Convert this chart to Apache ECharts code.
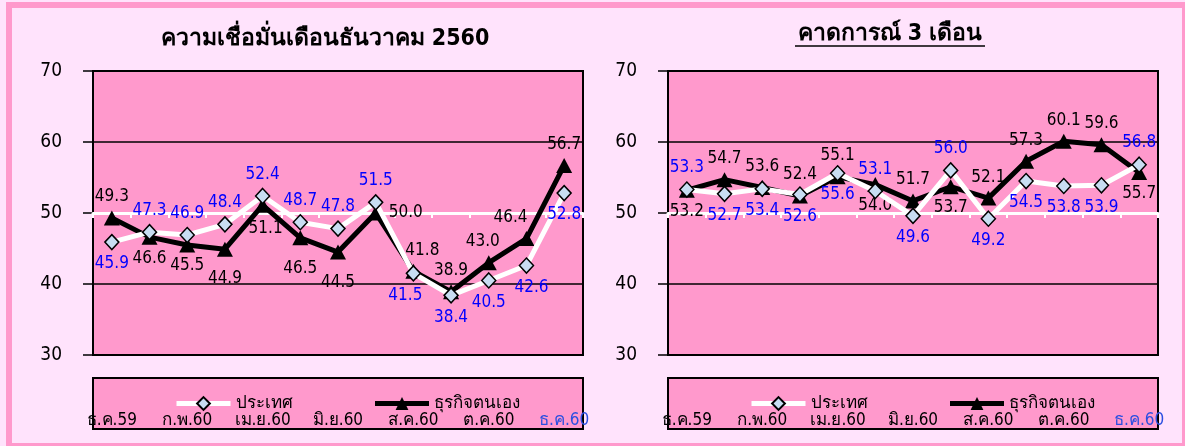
<!DOCTYPE html>
<html><head><meta charset="utf-8">
<script src="https://cdn.jsdelivr.net/npm/echarts@6/dist/echarts.min.js"></script>
<style>html,body{margin:0;padding:0;background:#FFE3FC}#c{width:1185px;height:446px}</style>
</head><body><div id="c"></div>
<script>
const categories = ['ธ.ค.59','ม.ค.60','ก.พ.60','มี.ค.60','เม.ย.60','พ.ค.60','มิ.ย.60','ก.ค.60','ส.ค.60','ก.ย.60','ต.ค.60','พ.ย.60','ธ.ค.60'];
const seriesNames = ['ประเทศ','ธุรกิจตนเอง'];
const titles = ['ความเชื่อมั่นเดือนธันวาคม 2560','คาดการณ์ 3 เดือน'];
const yMin = 30, yMax = 70, yStep = 10, refLine = 50;
const leftCountry  = [45.9,47.3,46.9,48.4,52.4,48.7,47.8,51.5,41.5,38.4,40.5,42.6,52.8];
const leftBusiness = [49.3,46.6,45.5,44.9,51.1,46.5,44.5,50.0,41.8,38.9,43.0,46.4,56.7];
const rightCountry  = [53.3,52.7,53.4,52.6,55.6,53.1,49.6,56.0,49.2,54.5,53.8,53.9,56.8];
const rightBusiness = [53.2,54.7,53.6,52.4,55.1,54.0,51.7,53.7,52.1,57.3,60.1,59.6,55.7];
// label placement per point (T = above, B = below, R = right)
const leftCountryPos  = 'BTTTTTTTBBBBB';
const leftBusinessPos = 'TBBBBBBRTTTTT';
const rightCountryPos  = 'TBBBBTBTBBBBT';
const rightBusinessPos = 'BTTTTBTBTTTTB';
// label nudges (index -> [dx, dy])
const leftCountryShift  = {8:[-8,0], 11:[5,0]};
const leftBusinessShift = {3:[0,8], 4:[3,2], 5:[0,10], 6:[0,10], 8:[9,0], 10:[-6,0], 11:[-16,0]};
const rightCountryShift = {};
const rightBusinessShift = {};

const FONT = '"DejaVu Sans Condensed", "DejaVu Sans", sans-serif';
const PINK = '#FF99CC', LIGHT = '#FFE3FC';
const posMap = {T:'top', B:'bottom', R:'right', L:'left'};
const gridL = [93, 668], gridW = 490, gridTop = 71, gridBottomY = 355;
const H = 446, W = 1185;

function mkSeries(name, values, pos, shift, g, isC){
  return {
    name, type:'line', xAxisIndex:g*2, yAxisIndex:g,
    data: values.map((v,i)=>({value:v, label:{position:posMap[pos[i]], offset: shift[i] || [0,0]}})),
    symbol: isC ? 'diamond' : 'triangle',
    symbolSize: isC ? [14,15] : [16,15],
    showAllSymbol:true,
    lineStyle:{color: isC ? '#FFFFFF' : '#000000', width:5},
    itemStyle:{color: isC ? '#C8DDF2' : '#000000', borderColor:'#000000', borderWidth: isC ? 1.5 : 0},
    label:{show:true, formatter:p=>p.value.toFixed(1), color: isC ? '#0000FF' : '#000000',
           fontSize:17, fontFamily:FONT, distance:5},
    emphasis:{disabled:true},
    z: isC ? 3 : 2,
    animation:false
  };
}

const chart = echarts.init(document.getElementById('c'), null, {renderer:'canvas'});
const grids = [0,1].map(g=>({left:gridL[g], top:gridTop, width:gridW, height:gridBottomY-gridTop,
  show:true, backgroundColor:PINK, borderColor:'#000', borderWidth:2, containLabel:false, outerBoundsMode:'none'}));

const refOffset = (refLine-yMin)/(yMax-yMin)*(gridBottomY-gridTop);
const xAxes = [];
[0,1].forEach(g=>{
  xAxes.push({type:'category', gridIndex:g, data:categories, position:'bottom',
    offset:-refOffset, boundaryGap:true,
    axisLine:{show:true, onZero:false, lineStyle:{color:'#FFFFFF', width:3}},
    axisTick:{show:true, interval:0, length:5, lineStyle:{color:'#FFFFFF', width:2}},
    axisLabel:{show:false}, splitLine:{show:false}, z:1});
  xAxes.push({type:'category', gridIndex:g, data:categories, position:'bottom', offset:0, boundaryGap:true,
    axisLine:{show:false, onZero:false}, axisTick:{show:false},
    axisLabel:{show:true, interval:1, margin:57, fontSize:17, fontFamily:FONT,
      color:(v)=> v===categories[categories.length-1] ? '#2B4FE0' : '#000000'},
    splitLine:{show:false}, z:5});
});

const yAxes = [0,1].map(g=>({type:'value', gridIndex:g, min:yMin, max:yMax, interval:yStep,
  axisLine:{show:false}, axisTick:{show:true, length:10, lineStyle:{color:'#000', width:1.5}},
  axisLabel:{fontSize:19, margin:31, color:'#000', fontFamily:FONT},
  splitLine:{show:true, lineStyle:{color:'#000', width:1.5}}, z:0}));

const legends = [0,1].map(g=>({data:seriesNames, left:gridL[g]+81, top:395, orient:'horizontal',
  itemWidth:54, itemHeight:16, itemGap:80, padding:0, selectedMode:false,
  lineStyle:{width:5},
  textStyle:{fontSize:17, fontFamily:FONT, color:'#000'}}));

chart.setOption({
  backgroundColor: LIGHT,
  animation:false,
  grid: grids,
  xAxis: xAxes,
  yAxis: yAxes,
  legend: legends,
  series: [
    mkSeries(seriesNames[1], leftBusiness, leftBusinessPos, leftBusinessShift, 0, false),
    mkSeries(seriesNames[0], leftCountry, leftCountryPos, leftCountryShift, 0, true),
    mkSeries(seriesNames[1], rightBusiness, rightBusinessPos, rightBusinessShift, 1, false),
    mkSeries(seriesNames[0], rightCountry, rightCountryPos, rightCountryShift, 1, true)
  ],
  graphic: [
    {type:'rect', silent:true, z:0, shape:{x:9, y:5, width:W-9, height:H-5}, style:{fill:'none', stroke:PINK, lineWidth:6}},
    {type:'rect', silent:true, z:1, shape:{x:gridL[0], y:378, width:gridW, height:51}, style:{fill:PINK, stroke:'#000', lineWidth:2}},
    {type:'rect', silent:true, z:1, shape:{x:gridL[1], y:378, width:gridW, height:51}, style:{fill:PINK, stroke:'#000', lineWidth:2}},
    {type:'text', silent:true, z:2, style:{text:titles[0], x:325, y:39, align:'center', verticalAlign:'middle',
      fontSize:23, fontWeight:'bold', fontFamily:FONT, fill:'#000'}},
    {type:'text', silent:true, z:2, style:{text:titles[1], x:890, y:34, align:'center', verticalAlign:'middle',
      fontSize:23, fontWeight:'bold', fontFamily:FONT, fill:'#000'}},
    {type:'line', silent:true, z:2, shape:{x1:795, y1:46, x2:985, y2:46}, style:{stroke:'#000', lineWidth:1.5}}
  ]
});
</script>
</body></html>
